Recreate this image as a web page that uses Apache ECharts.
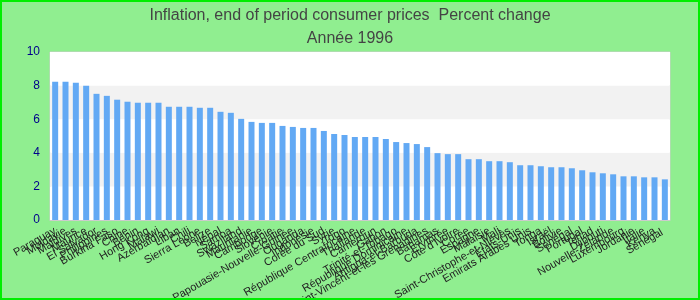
<!DOCTYPE html>
<html><head><meta charset="utf-8">
<script src="https://cdn.jsdelivr.net/npm/echarts@6/dist/echarts.min.js"></script>
<style>
html,body{margin:0;padding:0;background:#90ee90;}
#c{width:700px;height:300px;box-sizing:border-box;border:2px solid #00ee00;}
</style></head>
<body><div id="c"></div>
<script>
const titleText = 'Inflation, end of period consumer prices  Percent change';
const subtitleText = 'Année 1996';
const categories = ['Paraguay','Moldavie','Maldives','Maurice','El Salvador','Philippines','Burkina Faso','Chine','Bénin','Hong Kong',
 'Malawi','Azerbaïdjan','Liban','Chili','Sierra Leone','Belize','Népal','Samoa','Swaziland','Mauritanie',
 'Cambodge','Slovénie','Croatie','Papouasie-Nouvelle-Guinée','Ouganda','Indonésie','Corée du Sud','Syrie','Togo','République Centrafricaine',
 'Thaïlande','Cameroun','Gabon','Trinité-et-Tobago','République Dominicaine','Antigua-et-Barbuda','Saint-Vincent-et-les Grenadines','Bahamas','Erythrée','Côte d\'Ivoire',
 'Corée','Espagne','Malaisie','Mali','Saint-Christophe-et-Niévès','Etats-Unis','Emirats Arabes Unis','Tonga','Israël','Bolivie',
 'Sénégal','Portugal','Tchad','Djibouti','Nouvelle-Zélande','Luxembourg','Jordanie','Italie','Kenya','Sénégal '];
const values = [8.23,8.23,8.17,7.99,7.51,7.39,7.16,7.04,6.98,6.98,
 6.98,6.74,6.74,6.74,6.68,6.68,6.44,6.38,6.02,5.84,
 5.78,5.78,5.60,5.54,5.48,5.48,5.30,5.12,5.06,4.94,
 4.94,4.94,4.82,4.64,4.58,4.52,4.34,3.98,3.92,3.92,
 3.62,3.62,3.50,3.50,3.44,3.26,3.26,3.20,3.14,3.14,
 3.08,2.96,2.84,2.78,2.72,2.60,2.60,2.54,2.54,2.42];
const chart = echarts.init(document.getElementById('c'));
chart.setOption({
  backgroundColor:'#90ee90',
  animation:false,
  title:[{text:titleText,left:'center',top:1,textStyle:{fontFamily:'Liberation Sans',fontSize:16,fontWeight:'normal',color:'#444'}},
         {text:subtitleText,left:'center',top:24,textStyle:{fontFamily:'Liberation Sans',fontSize:16,fontWeight:'normal',color:'#444'}}],
  grid:{left:48,right:28,top:50,bottom:78,show:true,borderColor:'#ccc',borderWidth:1,backgroundColor:'#fff',
        containLabel:false,outerBoundsMode:'none'},
  xAxis:{type:'category',data:categories,
    axisLine:{lineStyle:{color:'#ccc'}},axisTick:{show:false},
    axisLabel:{interval:0,rotate:30,fontSize:11,color:'#222',fontFamily:'Liberation Sans',margin:10}},
  yAxis:{type:'value',min:0,max:10,interval:2,
    axisLine:{show:false},axisTick:{show:false},splitLine:{show:false},
    splitArea:{show:true,areaStyle:{color:['#ffffff','#f2f2f2']}},
    axisLabel:{fontSize:12,color:'#00008b',fontFamily:'Liberation Sans',margin:10}},
  series:[{type:'bar',data:values,barWidth:6,itemStyle:{color:'#62a9f4'}}]
});
</script></body></html>
